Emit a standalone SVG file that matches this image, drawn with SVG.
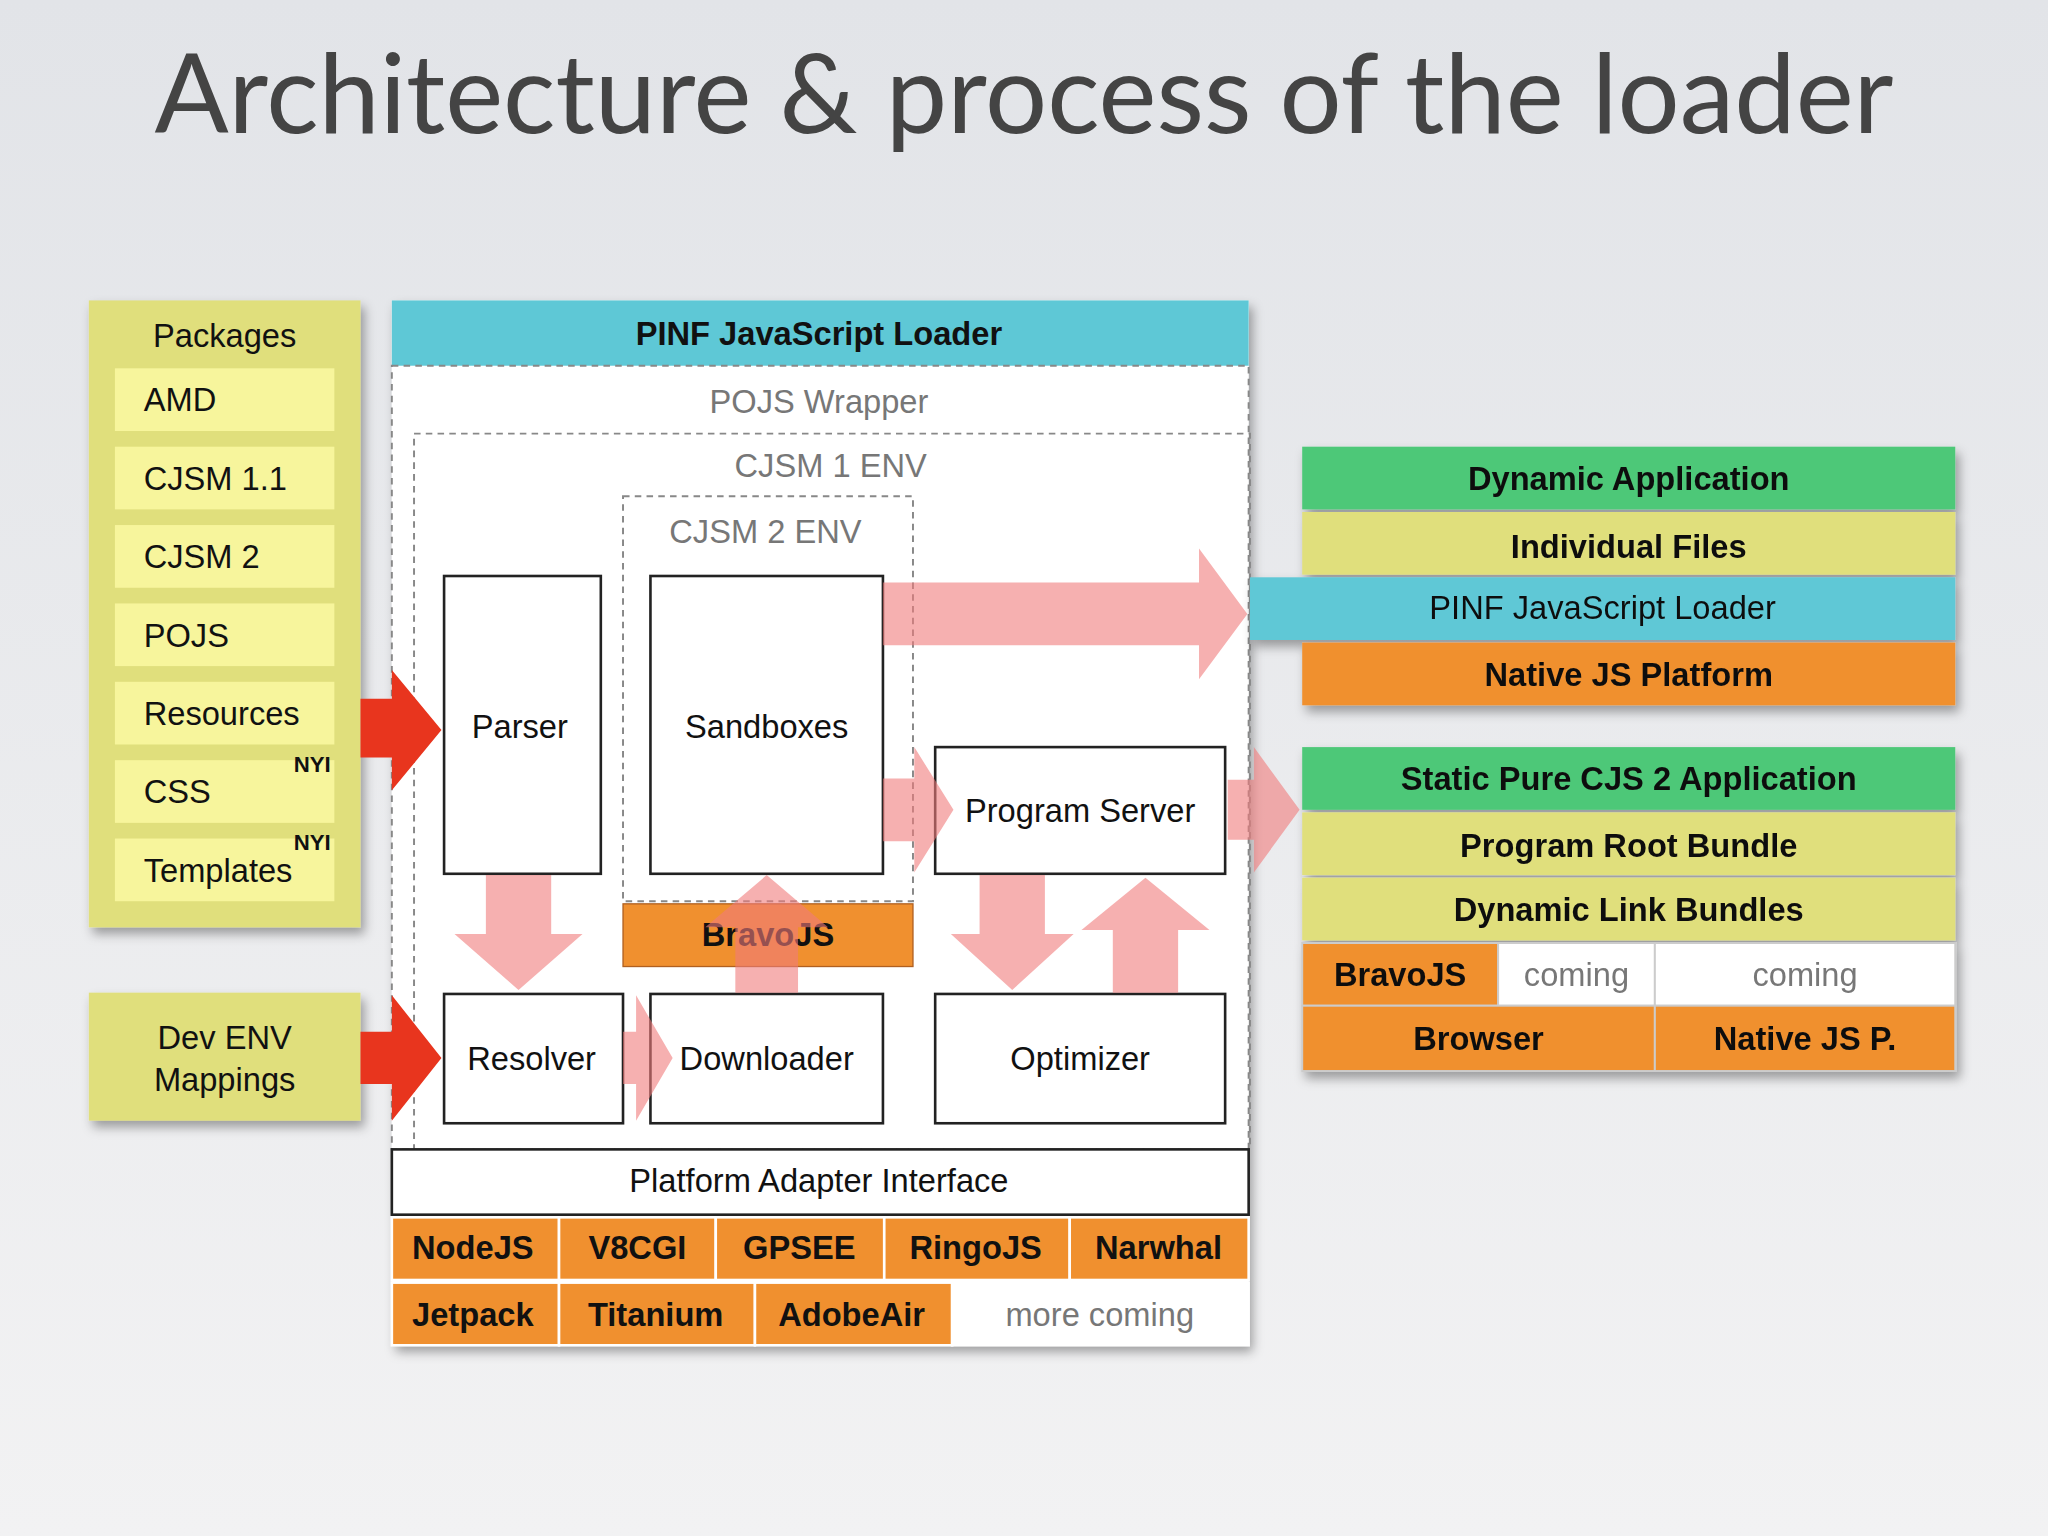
<svg xmlns="http://www.w3.org/2000/svg" width="2048" height="1536" viewBox="0 0 2048 1536">
<defs>
<linearGradient id="bg" x1="0" y1="0" x2="0" y2="1"><stop offset="0" stop-color="#e2e4e8"/><stop offset="1" stop-color="#f2f2f3"/></linearGradient>
<filter id="sh" x="-10%" y="-10%" width="130%" height="130%"><feDropShadow dx="3" dy="5" stdDeviation="4" flood-color="#000" flood-opacity="0.35"/></filter>
<style>
text{font-family:"Liberation Sans",Arial,sans-serif;fill:#111;font-size:25px;text-anchor:middle}
.b{font-weight:bold}
.l{text-anchor:start}
.g{fill:#777}
.yl{fill:#e0df7c}
.yi{fill:#f7f59c}
.cy{fill:#5ec8d6}
.gr{fill:#4dc878}
.or{fill:#f0902f}
.wb{fill:#fff;stroke:#222;stroke-width:2}
.w{fill:#fff}
.dash{fill:none;stroke:#888;stroke-width:1.5;stroke-dasharray:5 4}
.pk{fill:#f07c7c;opacity:0.6}
.rd{fill:#e8351e}
</style>
</defs>
<rect width="2048" height="1536" fill="url(#bg)"/>
<g transform="scale(1.30612)">
<text x="784" y="102" style="font-family:Lato,'Open Sans',sans-serif;font-size:84px;fill:#444">Architecture &amp; process of the loader</text>

<g id="packages">
<rect x="68" y="230" width="208" height="480" class="yl" filter="url(#sh)"/>
<text x="172" y="266">Packages</text>
<rect x="88" y="282" width="168" height="48" class="yi"/><text class="l" x="110" y="315">AMD</text>
<rect x="88" y="342" width="168" height="48" class="yi"/><text class="l" x="110" y="375">CJSM 1.1</text>
<rect x="88" y="402" width="168" height="48" class="yi"/><text class="l" x="110" y="435">CJSM 2</text>
<rect x="88" y="462" width="168" height="48" class="yi"/><text class="l" x="110" y="495">POJS</text>
<rect x="88" y="522" width="168" height="48" class="yi"/><text class="l" x="110" y="555">Resources</text>
<rect x="88" y="582" width="168" height="48" class="yi"/><text class="l" x="110" y="615">CSS</text>
<text class="b" x="239" y="591" style="font-size:17px">NYI</text>
<rect x="88" y="642" width="168" height="48" class="yi"/><text class="l" x="110" y="675">Templates</text>
<text class="b" x="239" y="651" style="font-size:17px">NYI</text>
</g>
<g id="devenv">
<rect x="68" y="760" width="208" height="98" class="yl" filter="url(#sh)"/>
<text x="172" y="803">Dev ENV</text><text x="172" y="835">Mappings</text>
</g>

<g id="loader">
<rect x="300" y="230" width="656" height="800" fill="#fff" filter="url(#sh)"/>
<rect x="300" y="230" width="656" height="50" class="cy"/>
<text class="b" x="627" y="264">PINF JavaScript Loader</text>
<rect x="300" y="280" width="656" height="600" class="dash"/>
<text class="g" x="627" y="316">POJS Wrapper</text>
<rect x="317" y="332" width="640" height="548" class="dash"/>
<text class="g" x="636" y="365">CJSM 1 ENV</text>
<rect x="477" y="380" width="222" height="310" class="dash"/>
<text class="g" x="586" y="416">CJSM 2 ENV</text>
</g>
<g id="parser"><rect x="340" y="441" width="120" height="228" class="wb"/><text x="398" y="565">Parser</text></g>
<g id="sandboxes"><rect x="498" y="441" width="178" height="228" class="wb"/><text x="587" y="565">Sandboxes</text></g>
<g id="progserver"><rect x="716" y="572" width="222" height="97" class="wb"/><text x="827" y="629">Program Server</text></g>
<g id="bravojs"><rect x="477" y="692" width="222" height="48" class="or" stroke="#b06020"/><text class="b" x="588" y="724">BravoJS</text></g>
<g id="resolver"><rect x="340" y="761" width="137" height="99" class="wb"/><text x="407" y="819">Resolver</text></g>
<g id="downloader"><rect x="498" y="761" width="178" height="99" class="wb"/><text x="587" y="819">Downloader</text></g>
<g id="optimizer"><rect x="716" y="761" width="222" height="99" class="wb"/><text x="827" y="819">Optimizer</text></g>
<g id="platform">
<rect x="300" y="880" width="656" height="50" class="wb"/><text x="627" y="913">Platform Adapter Interface</text>
<g stroke="#fff" stroke-width="2">
<rect x="300" y="932" width="128" height="48" class="or"/><rect x="428" y="932" width="120" height="48" class="or"/><rect x="548" y="932" width="129" height="48" class="or"/><rect x="677" y="932" width="142" height="48" class="or"/><rect x="819" y="932" width="137" height="48" class="or"/>
<rect x="300" y="982" width="128" height="48" class="or"/><rect x="428" y="982" width="150" height="48" class="or"/><rect x="578" y="982" width="151" height="48" class="or"/><rect x="729" y="982" width="227" height="48" class="w"/>
</g>
<text class="b" x="362" y="964">NodeJS</text><text class="b" x="488" y="964">V8CGI</text><text class="b" x="612" y="964">GPSEE</text><text class="b" x="747" y="964">RingoJS</text><text class="b" x="887" y="964">Narwhal</text>
<text class="b" x="362" y="1015">Jetpack</text><text class="b" x="502" y="1015">Titanium</text><text class="b" x="652" y="1015">AdobeAir</text><text class="g" x="842" y="1015">more coming</text>
</g>

<g id="stack1" filter="url(#sh)">
<rect x="997" y="342" width="500" height="48" class="gr"/><text class="b" x="1247" y="375">Dynamic Application</text>
<rect x="997" y="392" width="500" height="48" class="yl"/><text class="b" x="1247" y="427">Individual Files</text>
<rect x="957" y="442" width="540" height="48" class="cy"/><text x="1227" y="474">PINF JavaScript Loader</text>
<rect x="997" y="492" width="500" height="48" class="or"/><text class="b" x="1247" y="525">Native JS Platform</text>
</g>
<g id="stack2" filter="url(#sh)">
<rect x="997" y="572" width="500" height="48" class="gr"/><text class="b" x="1247" y="605">Static Pure CJS 2 Application</text>
<rect x="997" y="622" width="500" height="48" class="yl"/><text class="b" x="1247" y="656">Program Root Bundle</text>
<rect x="997" y="672" width="500" height="48" class="yl"/><text class="b" x="1247" y="705">Dynamic Link Bundles</text>
<g stroke="#ccc" stroke-width="1.5">
<rect x="997" y="722" width="150" height="48" class="or"/><rect x="1147" y="722" width="120" height="48" class="w"/><rect x="1267" y="722" width="230" height="48" class="w"/>
<rect x="997" y="770" width="270" height="50" class="or"/><rect x="1267" y="770" width="230" height="50" class="or"/>
</g>
<text class="b" x="1072" y="755">BravoJS</text><text class="g" x="1207" y="755">coming</text><text class="g" x="1382" y="755">coming</text>
<text class="b" x="1132" y="804">Browser</text><text class="b" x="1382" y="804">Native JS P.</text>
</g>

<g id="connectors">
<polygon class="pk" points="676,446 918,446 918,420 955,470 918,520 918,494 676,494"/>
<polygon class="pk" points="676,596 700,596 700,572 730,620 700,668 700,644 676,644"/>
<polygon class="pk" points="940,597 960,597 960,572 995,620 960,668 960,643 940,643"/>
<polygon class="pk" points="372,670 422,670 422,715 446,715 397,758 348,715 372,715"/>
<polygon class="pk" points="563,760 611,760 611,710 634,710 587,670 540,710 563,710"/>
<polygon class="pk" points="750,670 800,670 800,715 822,715 775,758 728,715 750,715"/>
<polygon class="pk" points="852,760 902,760 902,712 926,712 877,672 828,712 852,712"/>
<polygon class="pk" points="477,790 487,790 487,762 515,810 487,858 487,830 477,830"/>
<polygon class="rd" points="276,535 300,535 300,513 338,559 300,605 300,580 276,580"/>
<polygon class="rd" points="276,790 300,790 300,762 338,810 300,858 300,830 276,830"/>
</g>
</g>
</svg>
